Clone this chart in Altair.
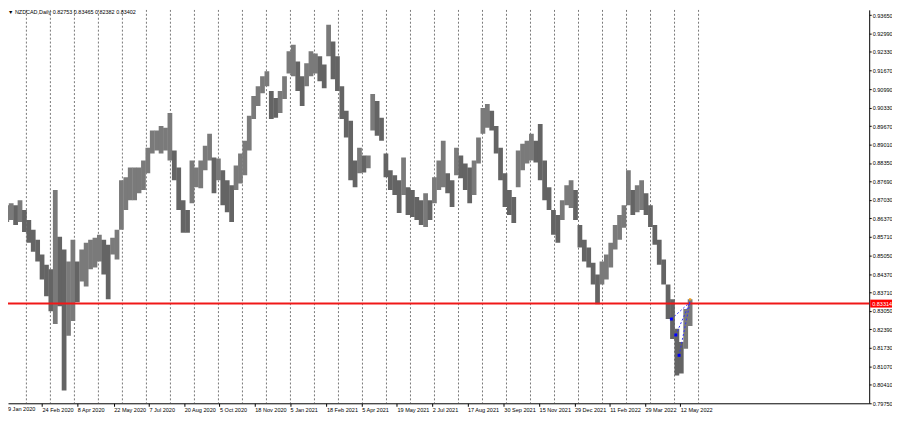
import altair as alt
import pandas as pd

# NZDCAD daily, sampled every 4 bars (high / low of each sample)
HIGH = [0.8684, 0.8691, 0.8684, 0.8702, 0.8667, 0.8631, 0.8596, 0.8560, 0.8507, 0.8471,
        0.8454, 0.8738, 0.8571, 0.8525, 0.8482, 0.8560, 0.8482, 0.8525, 0.8549, 0.8560,
        0.8567, 0.8578, 0.8560, 0.8542, 0.8567, 0.8596, 0.8773, 0.8784, 0.8819, 0.8819,
        0.8819, 0.8844, 0.8890, 0.8951, 0.8951, 0.8968, 0.8961, 0.9014, 0.8880, 0.8819,
        0.8702, 0.8667, 0.8844, 0.8819, 0.8844, 0.8897, 0.8940, 0.8855, 0.8851, 0.8809,
        0.8773, 0.8755, 0.8826, 0.8869, 0.8915, 0.9004, 0.9075, 0.9110, 0.9146, 0.9164,
        0.9093, 0.9068, 0.9093, 0.9146, 0.9235, 0.9259, 0.9199, 0.9146, 0.9192, 0.9235,
        0.9227, 0.9217, 0.9188, 0.9330, 0.9270, 0.9217, 0.9110, 0.9022, 0.8986, 0.8844,
        0.8890, 0.8862, 0.8862, 0.9082, 0.9057, 0.8997, 0.8869, 0.8809, 0.8791, 0.8773,
        0.8855, 0.8748, 0.8738, 0.8713, 0.8702, 0.8727, 0.8702, 0.8784, 0.8844, 0.8915,
        0.8798, 0.8773, 0.8890, 0.8862, 0.8833, 0.8819, 0.8844, 0.8926, 0.9032, 0.9046,
        0.9022, 0.8968, 0.8890, 0.8798, 0.8738, 0.8713, 0.8880, 0.8904, 0.8915, 0.8940,
        0.8915, 0.8975, 0.8844, 0.8748, 0.8667, 0.8649, 0.8702, 0.8755, 0.8773, 0.8738,
        0.8613, 0.8560, 0.8532, 0.8478, 0.8436, 0.8482, 0.8507, 0.8549, 0.8613, 0.8649,
        0.8684, 0.8809, 0.8738, 0.8755, 0.8773, 0.8727, 0.8684, 0.8613, 0.8560, 0.8489,
        0.8400, 0.8347, 0.8241, 0.8194, 0.8312, 0.8347]
LOW = [0.8624, 0.8631, 0.8613, 0.8624, 0.8588, 0.8549, 0.8517, 0.8482, 0.8418, 0.8358,
       0.8304, 0.8258, 0.8322, 0.8020, 0.8216, 0.8269, 0.8336, 0.8411, 0.8393, 0.8454,
       0.8461, 0.8482, 0.8436, 0.8347, 0.8507, 0.8489, 0.8596, 0.8667, 0.8702, 0.8702,
       0.8727, 0.8738, 0.8798, 0.8869, 0.8880, 0.8869, 0.8880, 0.8844, 0.8773, 0.8667,
       0.8585, 0.8585, 0.8691, 0.8748, 0.8745, 0.8809, 0.8844, 0.8727, 0.8773, 0.8684,
       0.8659, 0.8624, 0.8738, 0.8762, 0.8791, 0.8880, 0.8993, 0.9039, 0.9085, 0.9110,
       0.8993, 0.8997, 0.9014, 0.9064, 0.9156, 0.9146, 0.9093, 0.9039, 0.9110, 0.9146,
       0.9156, 0.9128, 0.9103, 0.9217, 0.9135, 0.9093, 0.8993, 0.8926, 0.8773, 0.8748,
       0.8798, 0.8801, 0.8816, 0.8951, 0.8933, 0.8915, 0.8784, 0.8738, 0.8720, 0.8656,
       0.8720, 0.8649, 0.8642, 0.8631, 0.8613, 0.8606, 0.8631, 0.8691, 0.8738, 0.8748,
       0.8727, 0.8677, 0.8791, 0.8780, 0.8738, 0.8691, 0.8720, 0.8833, 0.8940, 0.8961,
       0.8951, 0.8869, 0.8773, 0.8677, 0.8649, 0.8620, 0.8748, 0.8809, 0.8833, 0.8844,
       0.8837, 0.8773, 0.8702, 0.8667, 0.8578, 0.8549, 0.8631, 0.8684, 0.8674, 0.8631,
       0.8532, 0.8482, 0.8461, 0.8400, 0.8329, 0.8400, 0.8418, 0.8461, 0.8525, 0.8560,
       0.8603, 0.8684, 0.8649, 0.8659, 0.8667, 0.8649, 0.8606, 0.8542, 0.8471, 0.8400,
       0.8276, 0.8205, 0.8074, 0.8081, 0.8170, 0.8251]
STEP = 4

DATE_LABELS = ['9 Jan 2020', '24 Feb 2020', '8 Apr 2020', '22 May 2020', '7 Jul 2020',
               '20 Aug 2020', '5 Oct 2020', '18 Nov 2020', '5 Jan 2021', '18 Feb 2021',
               '5 Apr 2021', '19 May 2021', '2 Jul 2021', '17 Aug 2021', '30 Sep 2021',
               '15 Nov 2021', '29 Dec 2021', '11 Feb 2022', '29 Mar 2022', '12 May 2022']
DATE_BARS = [0, 32, 64, 97, 129, 161, 193, 225, 257, 290,
             322, 354, 386, 418, 451, 483, 515, 547, 579, 611]

PRICE_TICKS = [0.93650, 0.92990, 0.92330, 0.91670, 0.90990, 0.90330, 0.89670, 0.89010,
               0.88350, 0.87690, 0.87030, 0.86370, 0.85710, 0.85050, 0.84370, 0.83710,
               0.83050, 0.82390, 0.81730, 0.81070, 0.80410, 0.79750]

LEVEL = 0.83314
HEADER = '\u25bc NZDCAD,Daily  0.82753 0.83465 0.82382 0.83402'

DOT_BARS = [603, 607, 610]
DOT_PRICES = [0.8276, 0.8219, 0.8146]
FAN_END_BAR = 620
FAN_END_PRICE = 0.8337
LAST_HIGH = 0.83465

W, H = 869, 397
X0 = 5.6
x_scale = alt.Scale(domain=[X0, 778.0], nice=False, zero=False)
y_scale = alt.Scale(domain=[0.79743, 0.93836], nice=False, zero=False)

rows = []
for i, (hi, lo) in enumerate(zip(HIGH, LOW)):
    mid = (hi + lo) / 2
    prev = (HIGH[i - 1] + LOW[i - 1]) / 2 if i else mid
    rows.append({'bar': i * STEP, 'high': hi, 'low': lo,
                 'dir': 'down' if mid < prev else 'up'})
candles_df = pd.DataFrame(rows)

grid_df = pd.DataFrame({'bar': [17.8 + 21.78 * k for k in range(29)]})

x_axis = alt.Axis(
    values=[b for b in DATE_BARS if b >= X0],
    labelExpr=f"{DATE_LABELS}[indexof({DATE_BARS}, datum.value)]",
    orient='bottom', title=None, grid=False,
    domainColor='#000000', tickColor='#000000', tickSize=3,
    labelAlign='left', labelPadding=1, labelFontSize=5.6, labelColor='#000000',
    labelFont='Liberation Sans', labelOverlap=False, labelBound=False, labelFlush=False)
y_axis = alt.Axis(
    values=PRICE_TICKS, format='.5f', orient='right', title=None, grid=False,
    domainColor='#000000', tickColor='#000000', tickSize=2,
    labelPadding=1, labelFontSize=5.6, labelColor='#000000',
    labelFont='Liberation Sans', labelOverlap=False, labelBound=False, labelFlush=False)


def xq(field='bar'):
    return alt.X(f'{field}:Q', scale=x_scale, axis=x_axis)


def yq(field='p'):
    return alt.Y(f'{field}:Q', scale=y_scale, axis=y_axis)


grid = alt.Chart(grid_df).mark_rule(
    color='#555555', strokeDash=[2, 2], strokeWidth=0.8, clip=True
).encode(x=xq())

candles = alt.Chart(candles_df).mark_bar(width=4.8, clip=True).encode(
    x=xq(),
    y=yq('low'),
    y2='high:Q',
    color=alt.Color('dir:N', scale=alt.Scale(domain=['up', 'down'],
                                             range=['#7a7a7a', '#646464']), legend=None)
)

level = alt.Chart(pd.DataFrame({'p': [LEVEL]})).mark_rule(
    color='#f01818', strokeWidth=2
).encode(y=yq())

fan_rows = []
for k, (b, p) in enumerate(zip(DOT_BARS, DOT_PRICES)):
    fan_rows.append({'g': k, 'bar': b, 'p': p})
    fan_rows.append({'g': k, 'bar': FAN_END_BAR, 'p': FAN_END_PRICE})
fan = alt.Chart(pd.DataFrame(fan_rows)).mark_line(
    color='#3030ff', strokeDash=[2, 2], strokeWidth=1
).encode(x=xq(), y=yq(), detail='g:N')

dots = alt.Chart(pd.DataFrame({'bar': DOT_BARS, 'p': DOT_PRICES})).mark_point(
    shape='square', filled=True, size=9, color='#0000ff', opacity=1
).encode(x=xq(), y=yq())

last = alt.Chart(pd.DataFrame({'bar': [FAN_END_BAR], 'p': [LAST_HIGH]})).mark_point(
    shape='square', filled=True, size=5, color='#f0a020', opacity=1
).encode(x=xq(), y=yq())

tag = alt.Chart(pd.DataFrame({'p': [LEVEL]})).mark_rule(
    color='#ff0000', strokeWidth=8
).encode(x=alt.value(W + 1), x2=alt.value(W + 24), y=yq())
tag_text = alt.Chart(pd.DataFrame({'p': [LEVEL], 't': [f'{LEVEL:.5f}']})).mark_text(
    align='left', baseline='middle', fontSize=5.6, color='#ffffff', font='Liberation Sans'
).encode(x=alt.value(W + 3), y=yq(), text='t:N')

# first date label sits left of the visible plot edge
first_date = alt.Chart(pd.DataFrame({'t': [DATE_LABELS[0]]})).mark_text(
    align='left', baseline='top', fontSize=5.6, color='#000000', font='Liberation Sans'
).encode(x=alt.value(0), y=alt.value(H + 4), text='t:N')

header = alt.Chart(pd.DataFrame({'t': [HEADER]})).mark_text(
    align='left', baseline='top', fontSize=5.5, color='#000000', font='Liberation Sans'
).encode(x=alt.value(0), y=alt.value(0), text='t:N')

chart = (grid + candles + level + fan + dots + last + tag + tag_text
         + first_date + header).properties(
    width=W, height=H,
    autosize=alt.AutoSizeParams(type='none'),
    padding={'left': 0, 'top': 0, 'right': 23, 'bottom': 16},
    background='#ffffff'
).configure_view(stroke=None)

chart.save("out.html", embed_options={"renderer": "svg", "actions": False})
